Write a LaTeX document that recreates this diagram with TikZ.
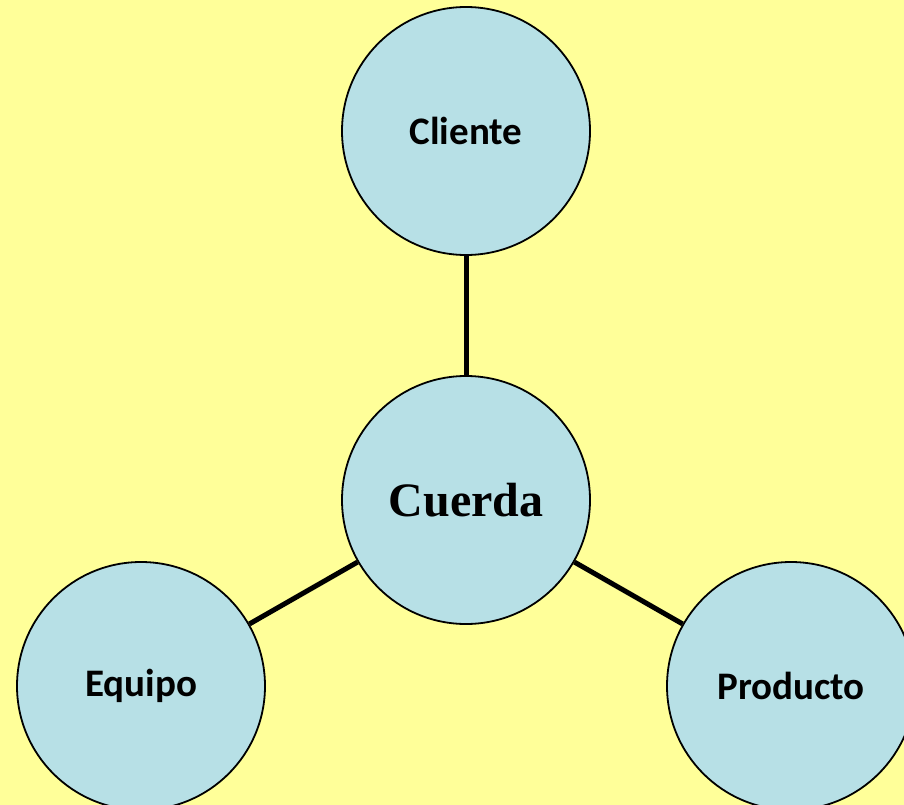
\documentclass[tikz,border=0pt]{standalone}
\usepackage{fontspec}
\newfontfamily\calib[Scale=1]{Carlito}
\newfontfamily\timesf{Liberation Serif}
\definecolor{bgyellow}{RGB}{255,255,153}
\definecolor{circblue}{RGB}{183,224,230}
\begin{document}
\begin{tikzpicture}[x=1pt,y=-1pt,
  bubble/.style={circle,draw=black,line width=1.8pt,fill=circblue,minimum size=248pt,inner sep=0pt},
  small/.style={font=\calib\bfseries\fontsize{39}{46}\selectfont},
  link/.style={line width=5pt,draw=black}]
\fill[bgyellow] (0,0) rectangle (904,805);
\useasboundingbox (0,0) rectangle (904,805);
\node[bubble,small] (cli) at (466,131) {Cliente};
\node[bubble,font=\timesf\bfseries\fontsize{48}{56}\selectfont] (cue) at (466,500) {Cuerda};
\node[bubble,small] (equ) at (141,686) {Equipo};
\node[bubble,small] (pro) at (791,686) {Producto};
\draw[link] (cli) -- (cue);
\draw[link] (cue) -- (equ);
\draw[link] (cue) -- (pro);
\end{tikzpicture}
\end{document}
